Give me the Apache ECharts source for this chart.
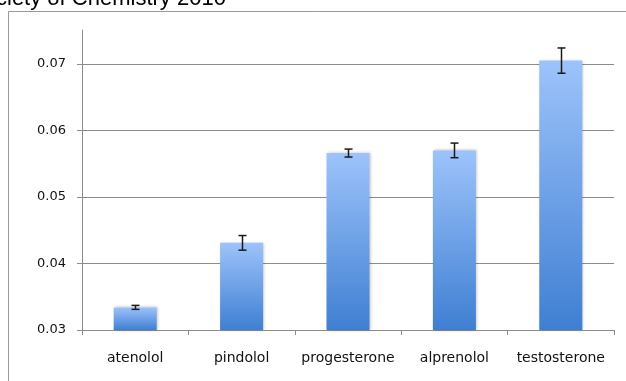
<!DOCTYPE html>
<html>
<head>
<meta charset="utf-8">
<script src="https://cdn.jsdelivr.net/npm/echarts@6/dist/echarts.min.js"></script>
<style>
html, body { margin: 0; padding: 0; background: #fff; }
#chart { width: 626px; height: 381px; }
</style>
</head>
<body>
<div id="chart"></div>
<script>
// data
var categories = ['atenolol', 'pindolol', 'progesterone', 'alprenolol', 'testosterone'];
var values = [0.0334, 0.0431, 0.0566, 0.0570, 0.0705];
var errors = [0.0003, 0.0011, 0.0006, 0.0011, 0.0019];
var yTicks = [0.03, 0.04, 0.05, 0.06, 0.07];

var chart = echarts.init(document.getElementById('chart'));

var errData = values.map(function (v, i) {
    return [i, v - errors[i], v + errors[i]];
});

var option = {
    animation: false,
    textStyle: { fontFamily: 'DejaVu Sans' },
    graphic: [
        {
            type: 'text',
            left: -4,
            top: -12,
            style: {
                text: 'ciety of Chemistry 2010',
                font: '22px "Liberation Sans"',
                fill: '#000'
            }
        },
        {
            type: 'rect',
            shape: { x: 8.5, y: 11.5, width: 700, height: 500 },
            style: { fill: 'none', stroke: '#9a9a9a', lineWidth: 1 },
            silent: true
        }
    ],
    grid: { left: 82, right: 12, top: 30, bottom: 51, containLabel: false },
    xAxis: {
        type: 'category',
        data: categories,
        axisLine: { show: true, lineStyle: { color: '#8c8c8c', width: 1 } },
        axisTick: { show: true, length: 5, lineStyle: { color: '#8c8c8c' } },
        axisLabel: { color: '#111', fontSize: 14, margin: 21, interval: 0 }
    },
    yAxis: {
        type: 'value',
        min: 0.03,
        max: 0.0751,
        axisLine: { show: true, lineStyle: { color: '#8c8c8c', width: 1 } },
        axisTick: { show: true, length: 5, customValues: yTicks, lineStyle: { color: '#8c8c8c' } },
        axisLabel: {
            color: '#111',
            fontSize: 13,
            margin: 16,
            customValues: yTicks,
            formatter: function (v) { return v.toFixed(2); }
        },
        splitLine: {
            show: true,
            lineStyle: { color: '#8c8c8c', width: 1 }
        }
    },
    series: [
        {
            type: 'bar',
            data: values,
            barWidth: 43,
            itemStyle: {
                color: new echarts.graphic.LinearGradient(0, 0, 0, 1, [
                    { offset: 0, color: '#9dc3fb' },
                    { offset: 1, color: '#3f7fd2' }
                ]),
                shadowColor: 'rgba(0,0,0,0.25)',
                shadowBlur: 3,
                shadowOffsetX: 1,
                shadowOffsetY: 0
            }
        },
        {
            type: 'custom',
            data: errData,
            z: 10,
            renderItem: function (params, api) {
                var x = api.value(0);
                var lo = api.coord([x, api.value(1)]);
                var hi = api.coord([x, api.value(2)]);
                var cx = Math.round(lo[0]) + 0.5;
                var hw = 4;
                var st = { stroke: '#1a1a1a', lineWidth: 1.5 };
                return {
                    type: 'group',
                    children: [
                        { type: 'line', shape: { x1: cx, y1: hi[1], x2: cx, y2: lo[1] }, style: st },
                        { type: 'line', shape: { x1: cx - hw, y1: hi[1], x2: cx + hw, y2: hi[1] }, style: st },
                        { type: 'line', shape: { x1: cx - hw, y1: lo[1], x2: cx + hw, y2: lo[1] }, style: st }
                    ]
                };
            }
        }
    ]
};

chart.setOption(option);
</script>
</body>
</html>
